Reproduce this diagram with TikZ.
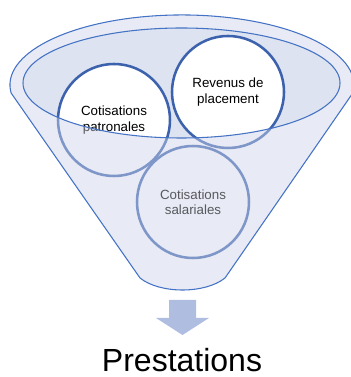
\documentclass[tikz,border=0pt]{standalone}
\usepackage{fontspec}
\setmainfont{Liberation Sans}
\usepackage{tikz}
\usetikzlibrary{positioning}
\definecolor{funnel}{HTML}{E8EBF6}
\definecolor{mouth}{HTML}{DDE3F1}
\definecolor{rim}{HTML}{4472C4}
\definecolor{ring}{HTML}{3D62AD}
\definecolor{pour}{HTML}{AFBDE0}

\begin{document}
\begin{tikzpicture}[
  x=0.75pt,y=0.75pt,
  every node/.style={font=\fontsize{10}{11.5}\selectfont},
  bubble/.style={circle,draw=ring,line width=1.9pt,minimum size=84pt,inner sep=0pt,align=center},
  edge/.style={draw=rim,line width=0.8pt}
]
\useasboundingbox (0,0) rectangle (350,377);
\coordinate (cp) at (114,257);
\coordinate (cr) at (228,285);
\coordinate (cs) at (193,175);
% funnel body and mouth
\fill[funnel] (11.1,284) arc[start angle=186.6,end angle=-6.6,x radius=172,y radius=70]
  -- (225,99) .. controls (205,83) and (160,83) .. (140,99) -- cycle;
\fill[mouth] (181.5,294) ellipse[x radius=158.5,y radius=55];
\begin{scope}
  \clip (181.5,294) ellipse[x radius=158.5,y radius=55];
  \fill[white] (cp) circle[radius=56];
  \fill[white] (cr) circle[radius=56];
\end{scope}
\node[bubble] (patr) at (cp) {Cotisations\\patronales};
\node[bubble] (rev) at (cr) {Revenus de\\placement};
\node[bubble] (sal) at (cs) {Cotisations\\salariales};
% front of the funnel
\fill[funnel,opacity=0.38,even odd rule] (11.1,284) arc[start angle=186.6,end angle=-6.6,x radius=172,y radius=70]
  -- (225,99) .. controls (205,83) and (160,83) .. (140,99) -- cycle
  (181.5,294) ellipse[x radius=158.5,y radius=55];
\draw[edge] (11.1,284) arc[start angle=186.6,end angle=-6.6,x radius=172,y radius=70]
  -- (225,99) .. controls (205,83) and (160,83) .. (140,99) -- cycle;
\draw[edge] (181.5,294) ellipse[x radius=158.5,y radius=55];
% output
\fill[pour] (169,77) -- (196,77) -- (196,59) -- (209,59) -- (182.5,42) -- (156,59) -- (169,59) -- cycle;
\node[anchor=base,font=\fontsize{24}{28}\selectfont] (out) at (182,6) {Prestations};
\end{tikzpicture}
\end{document}
